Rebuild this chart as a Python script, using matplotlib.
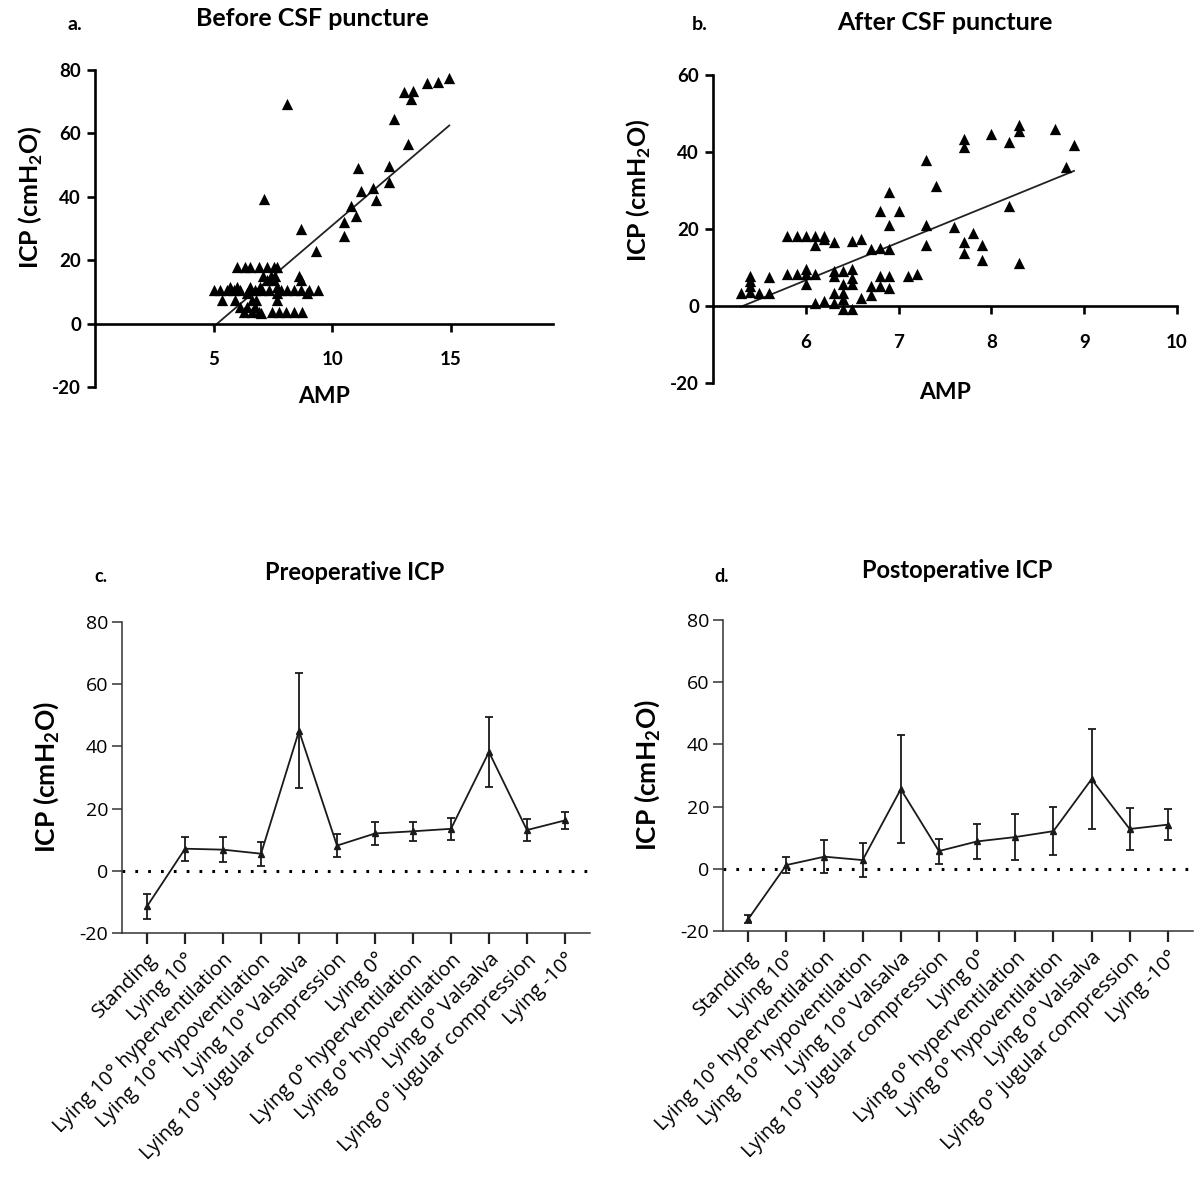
import numpy as np
import matplotlib
matplotlib.use('Agg')
import matplotlib.pyplot as plt

plt.rcParams['font.family'] = ['Lato', 'DejaVu Sans']
plt.rcParams['mathtext.fontset'] = 'custom'
plt.rcParams['mathtext.rm'] = 'Lato'
plt.rcParams['mathtext.bf'] = 'Lato:bold'
plt.rcParams['axes.unicode_minus'] = False

# ---- panel a: before CSF puncture (AMP vs ICP)
a_amp = [14.93, 14.44, 14.0, 13.03, 13.42, 13.31, 12.6, 13.2, 12.4, 12.4, 11.1, 11.7, 11.2, 11.83,
         10.8, 11.0, 10.5, 10.5, 8.69, 9.3, 8.07, 7.11,
         5.99, 6.34, 6.55, 6.9, 7.25, 7.54, 7.68,
         7.1, 7.4, 7.6, 8.6,
         7.25, 7.54, 8.66,
         5.0, 5.28, 5.56, 5.85, 6.13, 6.48, 6.76, 7.04, 7.32, 7.82, 8.1, 8.38, 8.66, 9.0, 9.4,
         5.7, 6.0, 6.55, 6.97, 7.68,
         6.4, 7.68, 8.94,
         5.35, 5.9, 6.6, 6.8, 7.68,
         6.13, 6.4, 6.76,
         6.27, 6.62, 6.9, 7.46, 7.75, 8.03, 8.38, 8.73,
         7.0]
a_icp = [77.5, 76.2, 75.9, 73.2, 73.5, 70.9, 64.6, 56.6, 49.7, 44.7, 49.0, 42.9, 41.8, 38.9,
         37.0, 34.1, 32.0, 27.7, 29.8, 22.8, 69.3, 39.2,
         18.0, 18.0, 18.0, 18.0, 18.0, 18.0, 18.0,
         15.0, 15.0, 15.0, 15.0,
         13.7, 13.7, 13.7,
         10.6, 10.6, 10.6, 10.6, 10.6, 10.6, 10.6, 10.6, 10.6, 10.6, 10.6, 10.6, 10.6, 10.6, 10.6,
         11.6, 11.6, 11.6, 11.6, 11.6,
         9.5, 9.5, 9.5,
         7.4, 7.4, 7.4, 7.4, 7.4,
         5.3, 5.3, 5.3,
         3.7, 3.7, 3.7, 3.7, 3.7, 3.7, 3.7, 3.7,
         3.2]
a_fit = (6.39, -32.9)  # slope, intercept

# ---- panel b: after CSF puncture
b_amp = [8.0, 7.7, 7.7, 7.3, 7.4, 6.9, 6.8, 7.0, 6.9, 7.3, 7.3, 7.6, 7.8, 7.7, 7.9, 7.7, 7.9,
         8.3, 8.3, 8.69, 8.89, 8.19, 8.8, 8.19, 8.3,
         5.8, 5.9, 6.0, 6.1, 6.2, 6.2, 6.3, 6.1,
         6.5, 6.6, 6.7, 6.8, 6.9,
         5.8, 5.9, 6.0, 6.0, 6.0, 6.1,
         6.3, 6.3, 6.4, 6.5, 6.5, 6.5, 6.4, 6.4, 6.4, 6.4, 6.3, 6.1, 6.2, 6.3, 6.5, 6.6,
         6.7, 6.7, 6.8, 6.8, 6.9, 6.9, 7.1, 7.2,
         5.4, 5.4, 5.4, 5.4, 5.3, 5.5, 5.6, 5.6]
b_icp = [44.8, 43.3, 41.4, 37.9, 31.2, 29.7, 24.6, 24.8, 21.1, 21.1, 15.8, 20.5, 19.0, 16.6, 15.8, 13.8, 11.9,
         46.9, 45.5, 46.1, 41.8, 42.5, 36.2, 26.0, 11.2,
         18.1, 18.1, 18.1, 18.1, 18.1, 17.4, 16.6, 15.8,
         17.0, 17.4, 14.7, 15.1, 14.8,
         8.2, 8.2, 9.5, 8.2, 5.6, 8.2,
         9.1, 7.8, 9.2, 9.5, 7.3, 5.6, 5.6, 3.4, 1.7, -0.9, 3.4, 0.9, 1.3, 0.7, -0.7, 2.0,
         5.2, 2.8, 7.8, 5.2, 7.8, 4.7, 7.8, 8.4,
         7.9, 6.5, 5.2, 3.6, 3.3, 3.3, 7.6, 3.4]
b_fit = (9.83, -52.3)

# ---- panels c, d: ICP by position
positions = ['Standing', 'Lying 10°', 'Lying 10° hyperventilation', 'Lying 10° hypoventilation',
             'Lying 10° Valsalva', 'Lying 10° jugular compression', 'Lying 0°',
             'Lying 0° hyperventilation', 'Lying 0° hypoventilation', 'Lying 0° Valsalva',
             'Lying 0° jugular compression', 'Lying -10°']
pre_mean = [-11.4, 7.1, 6.8, 5.5, 45.0, 8.1, 12.0, 12.7, 13.5, 38.2, 13.1, 16.2]
pre_sd = [4.1, 3.8, 4.1, 3.8, 18.5, 3.7, 3.6, 3.0, 3.6, 11.4, 3.5, 2.8]
post_mean = [-16.2, 1.2, 3.9, 2.8, 25.6, 5.7, 8.8, 10.2, 12.1, 28.8, 12.8, 14.2]
post_sd = [1.2, 2.7, 5.4, 5.5, 17.3, 4.0, 5.6, 7.4, 7.7, 16.0, 6.8, 5.1]

W, H = 1195, 1183
fig = plt.figure(figsize=(W / 100, H / 100), dpi=100)


def place(x0, x1, top, bottom):
    return fig.add_axes([x0 / W, 1 - bottom / H, (x1 - x0) / W, (bottom - top) / H])


ylab = r'ICP (cmH$_\mathbf{2}$O)'


def scatter_panel(ax, x, y, fit, xlim, ylim, xticks, yticks, letter, title, lx, labx):
    ax.scatter(x, y, marker='^', s=66, color='black', linewidths=0, zorder=3, clip_on=False)
    xs = np.array([min(x), max(x)])
    ax.plot(xs, fit[0] * xs + fit[1], color='#222222', lw=1.3, zorder=2)
    ax.set_xlim(*xlim)
    ax.set_ylim(*ylim)
    for s in ['top', 'right']:
        ax.spines[s].set_visible(False)
    ax.spines['bottom'].set_position(('data', 0))
    for s in ['left', 'bottom']:
        ax.spines[s].set_linewidth(1.9)
    ax.set_xticks(xticks)
    ax.set_yticks(yticks)
    ax.tick_params(length=6, width=1.9, labelsize=13.5)
    ax.tick_params(axis='x', pad=14)
    ax.tick_params(axis='y', pad=4)
    for t in ax.get_xticklabels() + ax.get_yticklabels():
        t.set_fontweight('bold')
    ax.text(0.5, -0.03, 'AMP', transform=ax.transAxes, ha='center', va='center',
            fontsize=16.5, fontweight='bold')
    ax.set_ylabel(ylab, fontsize=18, fontweight='bold')
    # label sits centred on the positive part of the axis
    zero = -ylim[0] / (ylim[1] - ylim[0])
    ax.yaxis.set_label_coords(labx, (1 + zero) / 2)
    fig.text(lx[0] / W, 1 - lx[1] / H, letter, fontsize=14, fontweight='bold', ha='center', va='center')
    fig.text(lx[2] / W, 1 - lx[3] / H, title, fontsize=18, fontweight='bold', ha='center', va='center')


ax_a = place(95, 553, 70, 387)
scatter_panel(ax_a, a_amp, a_icp, a_fit, (0, 19.3), (-20, 80), [5, 10, 15], [-20, 0, 20, 40, 60, 80],
              'a.', 'Before CSF puncture', (75, 24, 312, 18), -0.11)

ax_b = place(713, 1177, 75, 383)
scatter_panel(ax_b, b_amp, b_icp, b_fit, (5, 10), (-20, 60), [6, 7, 8, 9, 10], [-20, 0, 20, 40, 60],
              'b.', 'After CSF puncture', (700, 24, 945, 22), -0.13)


def line_panel(ax, mean, sd, letter, title, lx):
    xs = np.arange(len(positions))
    ax.axhline(0, color='black', lw=2.2, ls=(0, (0.9, 3.3)), zorder=1)
    ax.errorbar(xs, mean, yerr=sd, color='#1a1a1a', lw=1.3, marker='^', ms=5,
                capsize=3.2, capthick=1.3, elinewidth=1.3, zorder=3)
    ax.set_xlim(-0.66, len(positions) - 1 + 0.66)
    ax.set_ylim(-20, 80)
    for s in ['top', 'right']:
        ax.spines[s].set_visible(False)
    for s in ['left', 'bottom']:
        ax.spines[s].set_linewidth(1.1)
        ax.spines[s].set_color('#333333')
    ax.set_yticks([-20, 0, 20, 40, 60, 80])
    ax.set_xticks(xs)
    ax.set_xticklabels(positions, rotation=45, ha='right', rotation_mode='anchor',
                       family='Open Sans', fontsize=14.5)
    for t in ax.get_yticklabels():
        t.set_family('Open Sans')
    ax.tick_params(axis='y', length=7, width=1.1, color='#333333', labelsize=14, pad=3)
    ax.tick_params(axis='x', length=8, width=1.6, color='#222222', pad=4)
    ax.set_ylabel(ylab, fontsize=19, fontweight='bold', labelpad=13)
    fig.text(lx[0] / W, 1 - lx[1] / H, letter, fontsize=13, fontweight='bold', ha='center', va='center')
    fig.text(lx[2] / W, 1 - lx[3] / H, title, fontsize=17, fontweight='bold', ha='center', va='center')


ax_c = place(122, 590, 622, 933)
line_panel(ax_c, pre_mean, pre_sd, 'c.', 'Preoperative ICP', (101, 577, 355, 573))

ax_d = place(723, 1193, 620, 931)
line_panel(ax_d, post_mean, post_sd, 'd.', 'Postoperative ICP', (722, 577, 957, 570))

fig.savefig('out.png', dpi=100)
